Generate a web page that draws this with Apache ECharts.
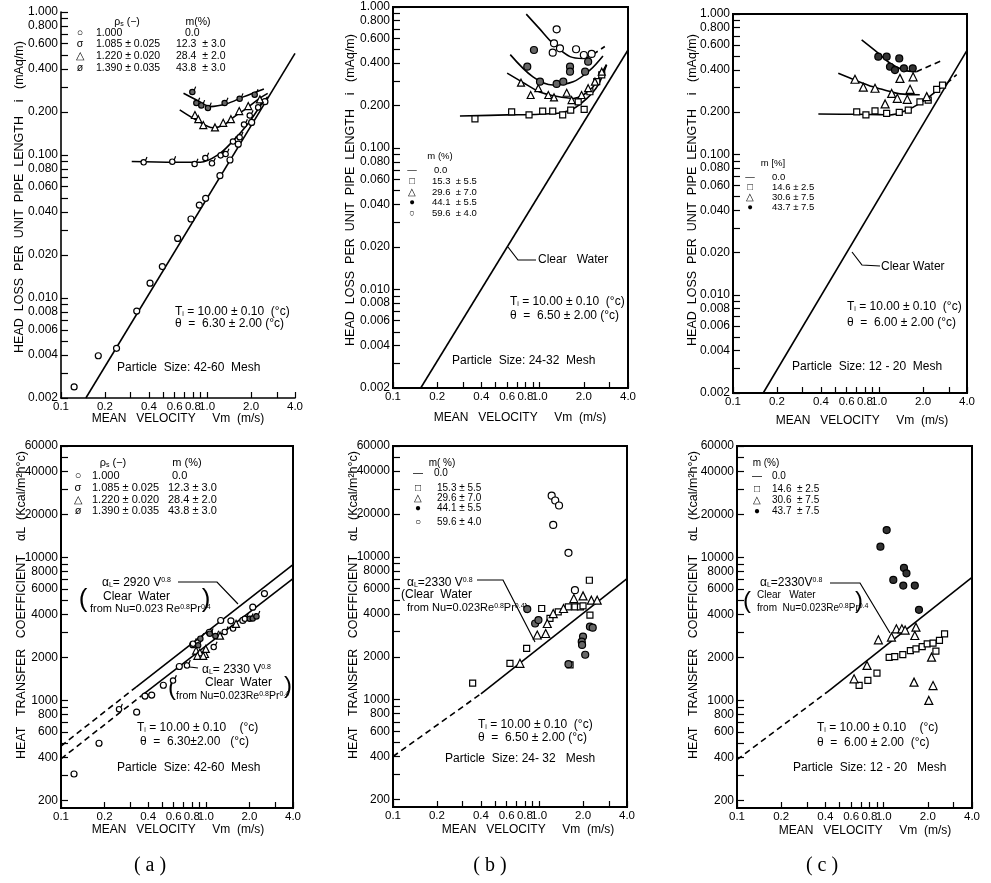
<!DOCTYPE html>
<html><head><meta charset="utf-8">
<script src="https://cdn.jsdelivr.net/npm/echarts@6/dist/echarts.min.js"></script>
<style>html,body{margin:0;padding:0;background:#fff}#c{width:991px;height:883px}</style>
</head><body><div id="c"></div>
<script>
// ---------- tick labels ----------
const xTickValues = [0.1,0.2,0.3,0.4,0.5,0.6,0.7,0.8,0.9,1.0,2.0,3.0,4.0];
const xLabelValues = [0.1,0.2,0.4,0.6,0.8,1.0,2.0,4.0];
const xLabelTexts = ['0.1','0.2','0.4','0.6','0.8','1.0','2.0','4.0'];
const headTickValues = [0.002,0.003,0.004,0.005,0.006,0.007,0.008,0.009,0.01,0.02,0.03,0.04,0.05,0.06,0.07,0.08,0.09,0.1,0.2,0.3,0.4,0.5,0.6,0.7,0.8,0.9,1.0];
const headLabelValues = [0.002,0.004,0.006,0.008,0.01,0.02,0.04,0.06,0.08,0.1,0.2,0.4,0.6,0.8,1.0];
const headLabelTexts = ['0.002','0.004','0.006','0.008','0.010','0.020','0.040','0.060','0.080','0.100','0.200','0.400','0.600','0.800','1.000'];
const heatTickValues = [200,300,400,500,600,700,800,900,1000,2000,3000,4000,5000,6000,7000,8000,9000,10000,20000,30000,40000,50000,60000];
const heatLabelValues = [200,400,600,800,1000,2000,4000,6000,8000,10000,20000,40000,60000];
const heatLabelTexts = ['200','400','600','800','1000','2000','4000','6000','8000','10000','20000','40000','60000'];

// ---------- (a) head loss ----------
const headA_m0 = [[0.123,0.00239],[0.180,0.00395],[0.240,0.00445],[0.330,0.0081],[0.407,0.0127],[0.494,0.0166],[0.629,0.0261],[0.776,0.0357],[0.885,0.0447],[0.978,0.0498],[1.225,0.0717],[1.435,0.0923],[1.635,0.119],[2.02,0.169],[2.49,0.236]];
const headA_m12 = [[0.370,0.0908],[0.581,0.0918],[0.826,0.0884],[0.978,0.0973],[1.086,0.0894],[1.245,0.1016],[1.347,0.1038],[1.512,0.127],[1.68,0.136],[1.80,0.167],[1.97,0.193],[2.25,0.22]];
const headA_m28 = [[0.826,0.1905],[0.871,0.178],[0.942,0.162],[1.133,0.156],[1.29,0.168],[1.457,0.178],[1.66,0.203],[1.914,0.220],[2.3,0.245]];
const headA_m43 = [[0.797,0.282],[0.849,0.236],[0.918,0.227],[1.019,0.218],[1.326,0.236],[1.68,0.253],[2.13,0.270]];
const headA_clear = [[0.148,0.002],[4.0,0.514]];
const headA_c12 = [[0.305,0.090],[0.6,0.089],[0.9,0.089],[1.2,0.101],[1.5,0.125],[1.9,0.165],[2.4,0.232],[2.6,0.255]];
const headA_c28 = [[0.65,0.207],[0.85,0.175],[1.1,0.155],[1.3,0.162],[1.5,0.182],[1.86,0.212],[2.3,0.25],[2.6,0.27]];
const headA_c43 = [[0.69,0.27],[0.89,0.236],[1.05,0.218],[1.36,0.228],[1.77,0.255],[2.45,0.29]];

// ---------- (b) head loss ----------
const headB_m15 = [[0.362,0.161],[0.644,0.181],[0.846,0.172],[1.048,0.183],[1.227,0.183],[1.435,0.172],[1.627,0.186],[2.01,0.188],[1.83,0.213],[2.20,0.251],[2.45,0.296],[2.65,0.330]];
const headB_m29 = [[0.746,0.291],[0.868,0.238],[0.979,0.266],[1.145,0.238],[1.252,0.229],[1.528,0.247],[1.65,0.219],[1.93,0.238],[2.14,0.266],[2.38,0.296],[2.65,0.348]];
const headB_m44 = [[0.914,0.496],[0.823,0.378],[1.005,0.296],[1.305,0.285],[1.448,0.296],[1.61,0.378],[1.61,0.348],[2.04,0.348],[2.14,0.410]];
const headB_m59 = [[1.305,0.695],[1.252,0.553],[1.375,0.510],[1.227,0.475],[1.77,0.502],[2.00,0.457],[2.26,0.465]];
const headB_clear = [[0.1545,0.002],[4.0,0.496]];
const headB_c15 = [[0.286,0.169],[0.6,0.172],[1.0,0.174],[1.4,0.178],[1.7,0.190],[2.1,0.225],[2.5,0.28],[2.86,0.39]];
const headB_c29 = [[0.6,0.34],[0.8,0.285],[1.0,0.25],[1.3,0.233],[1.7,0.225],[2.0,0.24],[2.3,0.27],[2.85,0.39]];
const headB_c44 = [[0.63,0.46],[0.9,0.32],[1.23,0.28],[1.69,0.295],[2.2,0.357],[2.7,0.45]];
const headB_c59 = [[0.81,0.89],[1.0,0.70],[1.23,0.553],[1.61,0.445],[1.98,0.432],[2.3,0.46]];
const headB_c59d = [[2.3,0.46],[2.78,0.525]];

// ---------- (c) head loss ----------
const headC_m14 = [[0.703,0.201],[0.813,0.191],[0.938,0.204],[1.127,0.196],[1.375,0.199],[1.585,0.207],[1.905,0.237],[2.17,0.244],[2.48,0.291],[2.72,0.312]];
const headC_m30 = [[0.684,0.343],[0.780,0.301],[0.938,0.296],[1.22,0.272],[1.333,0.251],[1.56,0.247],[1.63,0.291],[1.71,0.357],[1.10,0.229],[2.12,0.258],[1.39,0.348]];
const headC_m43 = [[0.988,0.497],[1.127,0.497],[1.375,0.483],[1.188,0.421],[1.285,0.399],[1.48,0.410],[1.70,0.410]];
const headC_clear = [[0.161,0.002],[4.0,0.55]];
const headC_c14 = [[0.384,0.194],[0.7,0.193],[1.0,0.192],[1.19,0.191],[1.54,0.206],[1.9,0.231],[2.36,0.272],[2.9,0.32]];
const headC_c14d = [[2.9,0.32],[3.4,0.37]];
const headC_c30 = [[0.526,0.378],[0.7,0.335],[0.91,0.303],[1.15,0.283],[1.39,0.27],[1.9,0.266]];
const headC_c43 = [[0.76,0.653],[1.0,0.52],[1.19,0.446],[1.46,0.40],[1.8,0.388]];
const headC_c43d = [[1.8,0.388],[2.62,0.46]];

// ---------- (a) heat transfer ----------
const heatA_m0 = [[0.123,306],[0.183,502],[0.333,827],[0.38,1072],[0.423,1090],[0.509,1276],[0.656,1726],[0.812,2453],[1.057,2990],[1.267,3617],[1.49,3600],[1.8,3620],[2.11,4487],[2.54,5578]];
const heatA_m12 = [[0.253,887],[0.597,1406],[0.745,1794],[1.14,2410],[0.82,2546],[1.357,3076],[1.55,3246],[1.87,3800]];
const heatA_m28 = [[0.857,2230],[0.91,2163],[0.987,2110],[1.0,2290],[0.875,2050],[0.96,2050],[1.253,2836],[1.617,3428]];
const heatA_m43 = [[0.89,2480],[0.922,2759],[1.07,2990],[1.17,2880],[2.02,3800],[2.12,3820],[2.25,3950]];
const heatA_2920d = [[0.1,480],[0.33,1240]];
const heatA_2920 = [[0.33,1240],[4.0,8900]];
const heatA_2330d = [[0.1,390],[0.36,1080]];
const heatA_2330 = [[0.36,1080],[4.0,7100]];

// ---------- (b) heat transfer ----------
const heatB_m15 = [[0.351,1306],[0.632,1800],[0.822,2291],[1.042,4357],[1.188,3713],[1.353,4130],[1.585,4477],[1.76,4477],[1.92,4477],[2.0,4550],[2.23,3917],[2.21,6874],[1.63,1754]];
const heatB_m29 = [[0.74,1800],[0.972,2842],[1.11,2910],[1.138,3420],[1.25,4013],[1.47,4357],[1.73,5117],[2.0,5343],[2.28,4986],[2.5,4986]];
const heatB_m44 = [[0.83,4315],[0.94,3420],[0.99,3614],[2.23,3248],[2.33,3197],[2.0,2770],[1.96,2553],[1.97,2420],[1.59,1773],[2.07,2065]];
const heatB_m59 = [[1.22,26900],[1.29,24900],[1.37,22960],[1.25,16800],[1.59,10700],[1.76,5858]];
const heatB_2330d = [[0.1,400],[0.4,1100]];
const heatB_2330 = [[0.4,1100],[4.0,7050]];

// ---------- (c) heat transfer ----------
const heatC_m14 = [[0.68,1273],[0.78,1382],[0.90,1550],[1.09,2000],[1.19,2025],[1.35,2090],[1.52,2230],[1.66,2290],[1.83,2380],[1.98,2480],[2.17,2510],[2.4,2630],[2.6,2917],[2.27,2210]];
const heatC_m30 = [[0.92,2652],[1.13,2770],[1.22,3163],[1.33,3163],[1.4,3100],[1.66,3250],[1.63,2843],[0.77,1755],[0.628,1416],[2.12,2005],[1.61,1342],[2.17,1270],[2.03,1000]];
const heatC_m43 = [[1.048,15500],[0.95,11880],[1.375,8430],[1.43,7730],[1.163,6955],[1.36,6343],[1.63,6343],[1.74,4296]];
const heatC_2330d = [[0.1,385],[0.41,1140]];
const heatC_2330 = [[0.41,1140],[4.0,7250]];

// ---------- build ----------
const lg = Math.log10;
const FONT = '"Liberation Sans", Arial, sans-serif';
function tr(a){ return a.map(p => [lg(p[0]), lg(p[1])]); }
function fmt(v, vals, texts){ const i = vals.findIndex(x => Math.abs(lg(x) - v) < 1e-6); return i >= 0 ? texts[i] : ''; }

const grids = [
  {left:61, top:12, width:234, height:386, show:false},
  {left:393, top:7, width:235, height:381, show:true},
  {left:733, top:14, width:234, height:379, show:true},
  {left:61, top:446, width:232, height:362, show:true},
  {left:393, top:446, width:234, height:361, show:true},
  {left:737, top:446, width:235, height:362, show:true}
].map(g => Object.assign(g, {borderColor:'#000', borderWidth:2, backgroundColor:'transparent', containLabel:false, outerBoundsMode:'none'}));

const xAxes = grids.map((g,i) => ({
  type:'value', gridIndex:i, min:lg(0.1), max:lg(4.0), position:'bottom',
  axisLine:{show:true, onZero:false, lineStyle:{color:'#000', width:1.6}},
  axisTick:{show:true, inside:true, length:6, customValues:xTickValues.map(lg), lineStyle:{color:'#000', width:1.2}},
  axisLabel:{show:true, customValues:xLabelValues.map(lg), formatter:v => fmt(v, xLabelValues, xLabelTexts), color:'#000', fontSize:11.5, fontFamily:FONT, margin:3},
  splitLine:{show:false}
}));
const yAxes = grids.map((g,i) => {
  const head = i < 3;
  const tv = head ? headTickValues : heatTickValues, lv = head ? headLabelValues : heatLabelValues, lt = head ? headLabelTexts : heatLabelTexts;
  return {
    type:'value', gridIndex:i, position:'left',
    min: head ? lg(0.002) : lg(177), max: head ? 0 : lg(60000),
    axisLine:{show:true, onZero:false, lineStyle:{color:'#000', width:1.6}},
    axisTick:{show:true, inside:true, length:7, customValues:tv.map(lg), lineStyle:{color:'#000', width:1.2}},
    axisLabel:{show:true, customValues:lv.map(lg), formatter:v => fmt(v, lv, lt), color:'#000', fontSize:12, fontFamily:FONT, margin:3},
    splitLine:{show:false}
  };
});

const SYM_TICK = 'path://M2,8a4,4 0 1,0 8,0a4,4 0 1,0 -8,0M9,5L11,0';
function sc(i, data, sym, fill, size){
  return {type:'scatter', xAxisIndex:i, yAxisIndex:i, data:tr(data), symbol:sym, symbolSize:size || 7, symbolKeepAspect:true,
    itemStyle:{color:fill, borderColor:'#000', borderWidth:1.2, opacity:1}, z:5, silent:true};
}
function ln(i, data, dashed, smooth){
  return {type:'line', xAxisIndex:i, yAxisIndex:i, data:tr(data), showSymbol:false, symbol:'none', smooth: smooth ? 0.35 : false,
    lineStyle:{color:'#000', width:1.6, type: dashed ? [6,4] : 'solid'}, z:3, silent:true};
}
const W = '#fff', F = '#666';
const series = [
  ln(0, headA_clear), ln(0, headA_c12, false, true), ln(0, headA_c28, false, true), ln(0, headA_c43, false, true),
  sc(0, headA_m0, 'circle', W, 6), sc(0, headA_m12, SYM_TICK, W, 8), sc(0, headA_m28, 'triangle', W, 7), sc(0, headA_m43, SYM_TICK, F, 8),

  ln(1, headB_clear), ln(1, headB_c15, false, true), ln(1, headB_c29, false, true), ln(1, headB_c44, false, true), ln(1, headB_c59, false, true), ln(1, headB_c59d, true),
  sc(1, headB_m15, 'rect', W, 6), sc(1, headB_m29, 'triangle', W, 7), sc(1, headB_m44, 'circle', F, 7), sc(1, headB_m59, 'circle', W, 7),

  ln(2, headC_clear), ln(2, headC_c14, false, true), ln(2, headC_c14d, true), ln(2, headC_c30, false, true), ln(2, headC_c43, false, true), ln(2, headC_c43d, true),
  sc(2, headC_m14, 'rect', W, 6), sc(2, headC_m30, 'triangle', W, 8), sc(2, headC_m43, 'circle', '#333', 7),

  ln(3, heatA_2920d, true), ln(3, heatA_2920), ln(3, heatA_2330d, true), ln(3, heatA_2330),
  sc(3, heatA_m0, 'circle', W, 6), sc(3, heatA_m12, SYM_TICK, W, 8), sc(3, heatA_m28, 'triangle', W, 7), sc(3, heatA_m43, SYM_TICK, F, 8),

  ln(4, heatB_2330d, true), ln(4, heatB_2330),
  sc(4, heatB_m15, 'rect', W, 6), sc(4, heatB_m29, 'triangle', W, 8), sc(4, heatB_m44, 'circle', F, 7), sc(4, heatB_m59, 'circle', W, 7),

  ln(5, heatC_2330d, true), ln(5, heatC_2330),
  sc(5, heatC_m14, 'rect', W, 6), sc(5, heatC_m30, 'triangle', W, 8), sc(5, heatC_m43, 'circle', '#333', 7)
];

// ---------- text annotations ----------
const G = [];
const RICH = {
  s:{fontSize:7, verticalAlign:'bottom', fontFamily:FONT},
  u:{fontSize:7, verticalAlign:'top', fontFamily:FONT}
};
function T(x, y, text, size, align, extra){
  G.push(Object.assign({type:'text', x:x, y:y, silent:true, style:{text:text, fill:'#000', fontSize:size || 11, fontFamily:FONT, align:align || 'left', verticalAlign:'middle', rich:RICH}}, extra || {}));
}
function P(points, w){ G.push({type:'polyline', silent:true, shape:{points:points}, style:{stroke:'#000', lineWidth:w || 1.2, fill:null}}); }
function VT(x, y, text, size){ T(x, y, text, size, 'center', {rotation:Math.PI/2}); }
function SERIF(x, y, text){ G.push({type:'text', x:x, y:y, silent:true, style:{text:text, fill:'#000', fontSize:20, fontFamily:'"Liberation Serif", serif', align:'center', verticalAlign:'middle'}}); }

// axis titles
const HEAD_TITLE = 'HEAD  LOSS  PER  UNIT  PIPE  LENGTH    i   (mAq/m)';
const HEAT_TITLE = 'HEAT   TRANSFER   COEFFICIENT    αL  (Kcal/m²h°c)';
const VEL_TITLE = 'MEAN   VELOCITY     Vm  (m/s)';
VT(20, 197, HEAD_TITLE, 12.5); VT(351, 190, HEAD_TITLE, 12.5); VT(693, 190, HEAD_TITLE, 12.5);
VT(22, 605, HEAT_TITLE, 12.5); VT(354, 605, HEAT_TITLE, 12.5); VT(694, 605, HEAT_TITLE, 12.5);
T(178, 419, VEL_TITLE, 12, 'center'); T(520, 418, VEL_TITLE, 12, 'center'); T(862, 421, VEL_TITLE, 12, 'center');
T(178, 830, VEL_TITLE, 12, 'center'); T(528, 830, VEL_TITLE, 12, 'center'); T(865, 831, VEL_TITLE, 12, 'center');

// panel labels
SERIF(150, 866, '( a )'); SERIF(490, 866, '( b )'); SERIF(822, 866, '( c )');

// (a) top legend
T(127, 22, 'ρ{s|s} (−)', 10.5, 'center'); T(198, 22, 'm(%)', 10.5, 'center');
[['○','1.000','0.0'],['σ','1.085 ± 0.025','12.3  ± 3.0'],['△','1.220 ± 0.020','28.4  ± 2.0'],['ø','1.390 ± 0.035','43.8  ± 3.0']].forEach((r,k) => {
  const y = [33,44,56,68][k];
  T(80, y, r[0], 10.5, 'center'); T(96, y, r[1], 10.5); T(k === 0 ? 185 : 176, y, r[2], 10.5);
});
T(175, 312, 'T{s|i} = 10.00 ± 0.10  (°c)', 12); T(175, 324, 'θ  =  6.30 ± 2.00 (°c)', 12);
T(117, 368, 'Particle  Size: 42-60  Mesh', 12);

// (b) top legend
T(440, 156, 'm (%)', 9.5, 'center');
[['—','0.0'],['□','15.3  ± 5.5'],['△','29.6  ± 7.0'],['●','44.1  ± 5.5'],['○','59.6  ± 4.0']].forEach((r,k) => {
  const y = [170,181,192,202,213][k];
  T(412, y, r[0], 9.5, 'center'); T(k === 0 ? 434 : 432, y, r[1], 9.5);
});
T(538, 260, 'Clear   Water', 12); P([[508,247],[518,260],[536,260]]);
T(510, 302, 'T{s|i} = 10.00 ± 0.10  (°c)', 12); T(510, 316, 'θ  =  6.50 ± 2.00 (°c)', 12);
T(452, 361, 'Particle  Size: 24-32  Mesh', 12);

// (c) top legend
T(773, 163, 'm [%]', 9.5, 'center');
[['—','0.0'],['□','14.6 ± 2.5'],['△','30.6 ± 7.5'],['●','43.7 ± 7.5']].forEach((r,k) => {
  const y = [177,187,197,207][k];
  T(750, y, r[0], 9.5, 'center'); T(772, y, r[1], 9.5);
});
T(881, 267, 'Clear Water', 12); P([[852,252],[862,265],[880,266]]);
T(847, 307, 'T{s|i} = 10.00 ± 0.10  (°c)', 12); T(847, 323, 'θ  =  6.00 ± 2.00 (°c)', 12);
T(792, 367, 'Particle  Size: 12 - 20  Mesh', 12);

// (a) bottom legend
T(113, 463, 'ρ{s|s} (−)', 11, 'center'); T(187, 463, 'm (%)', 11, 'center');
[['○','1.000','0.0'],['σ','1.085 ± 0.025','12.3 ± 3.0'],['△','1.220 ± 0.020','28.4 ± 2.0'],['ø','1.390 ± 0.035','43.8 ± 3.0']].forEach((r,k) => {
  const y = [476,488,500,511][k];
  T(78, y, r[0], 11, 'center'); T(92, y, r[1], 11); T(k === 0 ? 172 : 168, y, r[2], 11);
});
T(102, 583, 'α{s|L}= 2920 V{u|0.8}', 12); T(103, 597, 'Clear  Water', 12); T(90, 609, 'from Nu=0.023 Re{u|0.8}Pr{u|0.4}', 11);
T(83, 600, '(', 26, 'center'); T(206, 600, ')', 26, 'center');
P([[178,582],[217,582],[238,604]]);
T(202, 670, 'α{s|L}= 2330 V{u|0.8}', 12); T(205, 683, 'Clear  Water', 12); T(176, 696, 'from Nu=0.023Re{u|0.8}Pr{u|0.4}', 10.5);
T(172, 688, '(', 24, 'center'); T(288, 686, ')', 24, 'center');
P([[198,668],[190,667],[186,662]]);
T(137, 728, 'T{s|i} = 10.00 ± 0.10    (°c)', 12); T(140, 742, 'θ  =  6.30±2.00   (°c)', 12);
T(117, 768, 'Particle  Size: 42-60  Mesh', 12);

// (b) bottom legend
T(442, 463, 'm( %)', 10, 'center');
[['—','0.0',473],['□','15.3 ± 5.5',488],['△','29.6 ± 7.0',498],['●','44.1 ± 5.5',508],['○','59.6 ± 4.0',522]].forEach((r,k) => {
  T(418, r[2], r[0], 10, 'center'); T(k === 0 ? 434 : 437, r[2], r[1], 10);
});
T(407, 583, 'α{s|L}=2330 V{u|0.8}', 12); T(401, 595, '(Clear  Water', 12); T(407, 608, 'from Nu=0.023Re{u|0.8}Pr{u|0.4})', 11);
P([[477,580],[503,580],[535,642]]);
T(478, 725, 'T{s|i} = 10.00 ± 0.10  (°c)', 12); T(478, 738, 'θ  =  6.50 ± 2.00 (°c)', 12);
T(445, 759, 'Particle  Size: 24- 32   Mesh', 12);

// (c) bottom legend
T(766, 463, 'm (%)', 10, 'center');
[['—','0.0',476],['□','14.6  ± 2.5',489],['△','30.6  ± 7.5',500],['●','43.7  ± 7.5',511]].forEach((r,k) => {
  T(757, r[2], r[0], 10, 'center'); T(772, r[2], r[1], 10);
});
T(760, 583, 'α{s|L}=2330V{u|0.8}', 12); T(757, 595, 'Clear   Water', 10); T(757, 608, 'from  Nu=0.023Re{u|0.8}Pr{u|0.4}', 10);
T(747, 601, '(', 24, 'center'); T(859, 601, ')', 24, 'center');
P([[830,583],[860,583],[890,633]]);
T(817, 728, 'T{s|i} = 10.00 ± 0.10    (°c)', 12); T(817, 743, 'θ  =  6.00 ± 2.00  (°c)', 12);
T(793, 768, 'Particle  Size: 12 - 20   Mesh', 12);

const chart = echarts.init(document.getElementById('c'));
chart.setOption({
  animation:false,
  backgroundColor:'#fff',
  grid:grids, xAxis:xAxes, yAxis:yAxes, series:series,
  graphic:{elements:G}
});
</script>
</body></html>
